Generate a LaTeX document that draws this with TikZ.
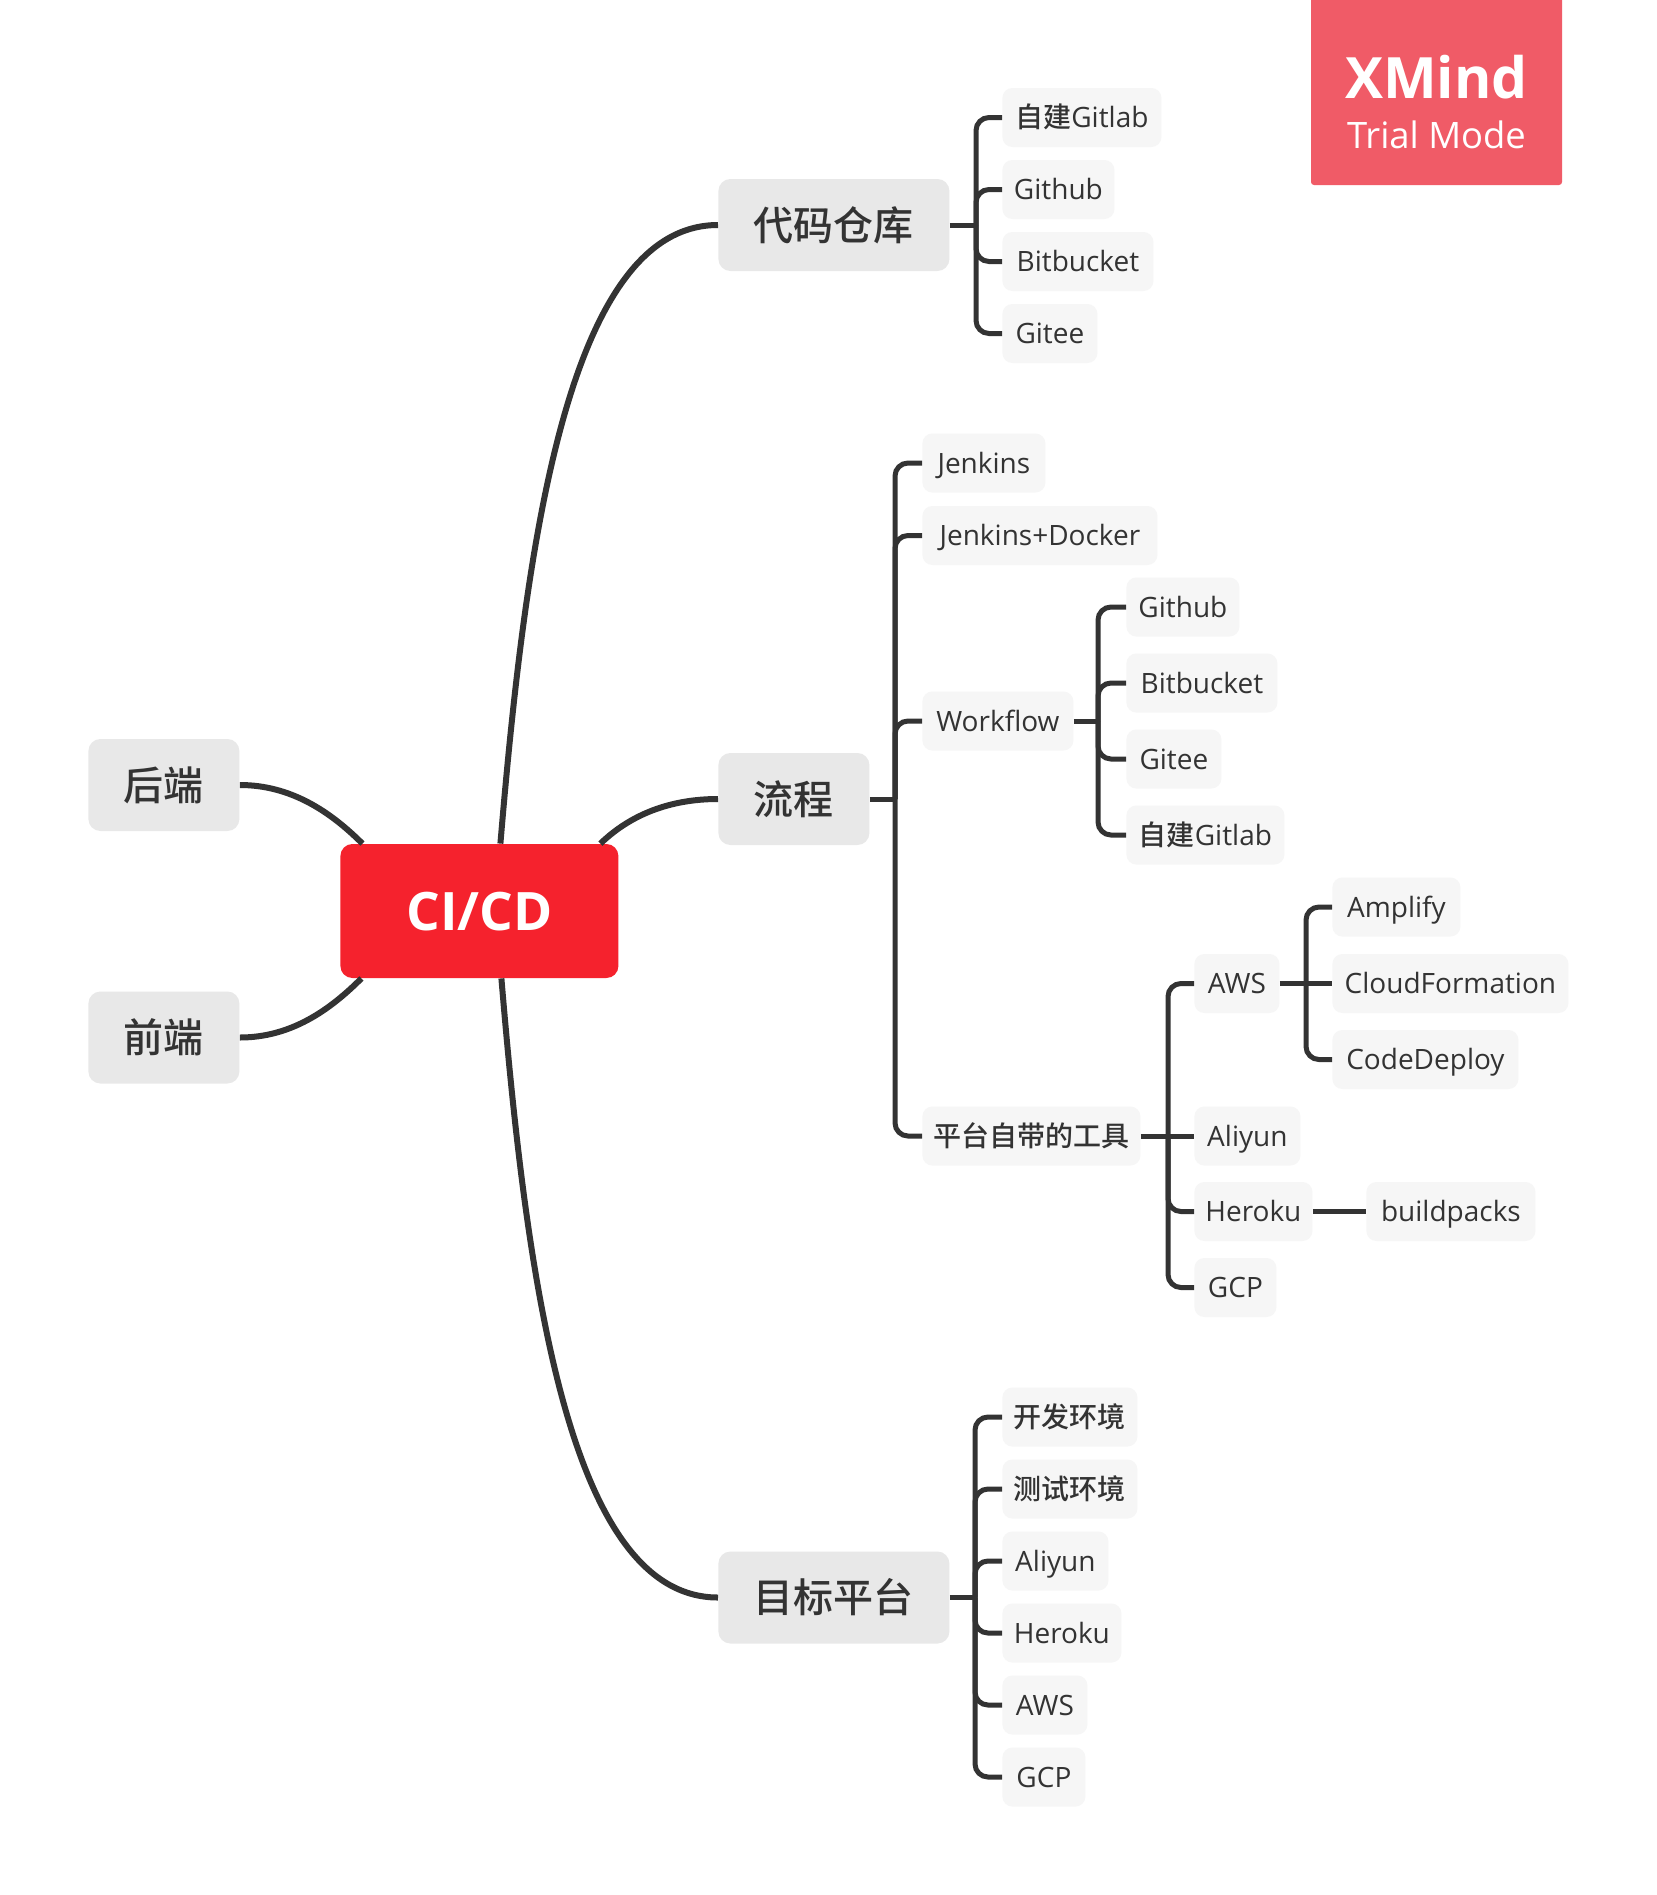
\documentclass[tikz,border=0pt]{standalone}
\usepackage{fontspec}
\setmainfont{Open Sans}
\newfontfamily\cjk{Noto Sans CJK SC}[UprightFont={* Medium}]
\definecolor{txt}{HTML}{333333}
\definecolor{lnc}{HTML}{333333}
\definecolor{mainfill}{HTML}{E8E8E8}
\definecolor{subfill}{HTML}{F6F6F6}
\definecolor{rootred}{HTML}{F5222D}
\definecolor{wmred}{HTML}{F05B67}
\begin{document}
\begin{tikzpicture}[x=0.5pt,y=-0.5pt,
  sub/.style={fill=subfill, rounded corners=5pt, anchor=west, minimum height=29.5pt, inner sep=0pt, text=txt, font=\fontsize{14}{16}\selectfont, text height=10pt, text depth=0pt},
  mainn/.style={fill=mainfill, rounded corners=6pt, anchor=west, minimum height=46pt, minimum width=75.5pt, inner sep=0pt, text=txt, font=\cjk\fontsize{20}{24}\selectfont, text height=15.4pt, text depth=0.2pt},
  rootn/.style={fill=rootred, rounded corners=6pt, anchor=west, minimum height=67pt, minimum width=139pt, inner sep=0pt, text=white, font=\bfseries\fontsize{26.5}{30}\selectfont, text height=19pt, text depth=0pt},
  ln/.style={draw=lnc, line width=2.5pt, rounded corners=6.5pt},
  mln/.style={draw=lnc, line width=3pt},
]
\useasboundingbox (0,0) rectangle (1657,1895);
\fill[white] (0,0) rectangle (1657,1895);

% watermark
\node[fill=wmred, rounded corners=1.5pt, minimum width=125.5pt, minimum height=95pt, inner sep=0pt] (wm) at (1436.5,90) {};
\node[anchor=base, text=white, font=\bfseries\fontsize{28.5}{30}\selectfont, inner sep=0pt] (wmx) at (1436.5,98) {XMind};
\node[anchor=base, text=white, font=\fontsize{18.2}{20}\selectfont, inner sep=0pt] (wmt) at (1436.5,148) {Trial Mode};

% root and main topics
\node[rootn] (root) at (340,911) {CI/CD};
\node[mainn, minimum width=115.5pt] (repo) at (718,225) {代码仓库};
\node[mainn] (flow) at (718,799) {流程};
\node[mainn, minimum width=115.5pt] (target) at (718,1597.5) {目标平台};
\node[mainn] (back) at (88,785) {后端};
\node[mainn] (front) at (88,1037.5) {前端};

\draw[mln] ([xshift=10.5pt]root.north) .. controls +(25.2,-300) and +(-150,0) .. (repo.west);
\draw[mln] ([xshift=11pt]root.south) .. controls +(25.2,300) and +(-150,0) .. (target.west);
\draw[mln] ([xshift=60.5pt]root.north) .. controls +(30,-29) and +(-48,0) .. (flow.west);
\draw[mln] (back.east) .. controls +(51,0) and +(-32,-32) .. ([xshift=-58.5pt]root.north);
\draw[mln] (front.east) .. controls +(51,0) and +(-32,32) .. ([xshift=-59pt]root.south);

% repo children
\node[sub, minimum width=79.5pt] (r1) at (1002,117.5) {{\cjk 自建}Gitlab};
\node[sub, minimum width=56pt] (r2) at (1002,189.5) {Github};
\node[sub, minimum width=75.5pt] (r3) at (1002,261.5) {Bitbucket};
\node[sub, minimum width=47.5pt] (r4) at (1002,333.5) {Gitee};
\coordinate (rb) at (976,225);
\draw[ln] (repo.east) -- (rb);
\foreach \c in {r1,r2,r3,r4} \draw[ln] (rb) |- (\c.west);

% flow children
\node[sub, minimum width=61.5pt] (f1) at (922,463) {Jenkins};
\node[sub, minimum width=117.5pt] (f2) at (922,535.5) {Jenkins+Docker};
\node[sub, minimum width=75.5pt] (f3) at (922,721) {Workflow};
\node[sub, minimum width=109pt] (f4) at (922,1136) {\cjk 平台自带的工具};
\coordinate (fb) at (895,799);
\draw[ln] (flow.east) -- (fb);
\foreach \c in {f1,f2,f3,f4} \draw[ln] (fb) |- (\c.west);

% workflow children
\node[sub, minimum width=56.5pt] (w1) at (1126,607) {Github};
\node[sub, minimum width=75.5pt] (w2) at (1126,683) {Bitbucket};
\node[sub, minimum width=47.5pt] (w3) at (1126,759) {Gitee};
\node[sub, minimum width=79pt] (w4) at (1126,835) {{\cjk 自建}Gitlab};
\coordinate (wb) at (1098,721);
\draw[ln] (f3.east) -- (wb);
\foreach \c in {w1,w2,w3,w4} \draw[ln] (wb) |- (\c.west);

% platform tools children
\node[sub, minimum width=42.5pt] (p1) at (1194,983.5) {AWS};
\node[sub, minimum width=53pt] (p2) at (1194,1136) {Aliyun};
\node[sub, minimum width=59pt] (p3) at (1194,1211.5) {Heroku};
\node[sub, minimum width=41pt] (p4) at (1194,1287.5) {GCP};
\coordinate (pb) at (1168,1136);
\draw[ln] (f4.east) -- (p2.west);
\foreach \c in {p1,p3,p4} \draw[ln] (pb) |- (\c.west);

% AWS children
\node[sub, minimum width=64pt] (a1) at (1332,907) {Amplify};
\node[sub, minimum width=118pt] (a2) at (1332,983.5) {CloudFormation};
\node[sub, minimum width=93pt] (a3) at (1332,1059.5) {CodeDeploy};
\coordinate (ab) at (1306,983.5);
\draw[ln] (p1.east) -- (a2.west);
\foreach \c in {a1,a3} \draw[ln] (ab) |- (\c.west);

% Heroku child
\node[sub, minimum width=84.5pt] (h1) at (1366,1211.5) {buildpacks};
\draw[ln] (p3.east) -- (h1.west);

% target children
\node[sub, minimum width=67.5pt] (t1) at (1002,1417) {\cjk 开发环境};
\node[sub, minimum width=67.5pt] (t2) at (1002,1489) {\cjk 测试环境};
\node[sub, minimum width=53pt] (t3) at (1002,1561) {Aliyun};
\node[sub, minimum width=59.5pt] (t4) at (1002,1633) {Heroku};
\node[sub, minimum width=42.5pt] (t5) at (1002,1705) {AWS};
\node[sub, minimum width=41.5pt] (t6) at (1002,1777) {GCP};
\coordinate (tb) at (975,1597.5);
\draw[ln] (target.east) -- (tb);
\foreach \c in {t1,t2,t3,t4,t5,t6} \draw[ln] (tb) |- (\c.west);
\end{tikzpicture}
\end{document}
